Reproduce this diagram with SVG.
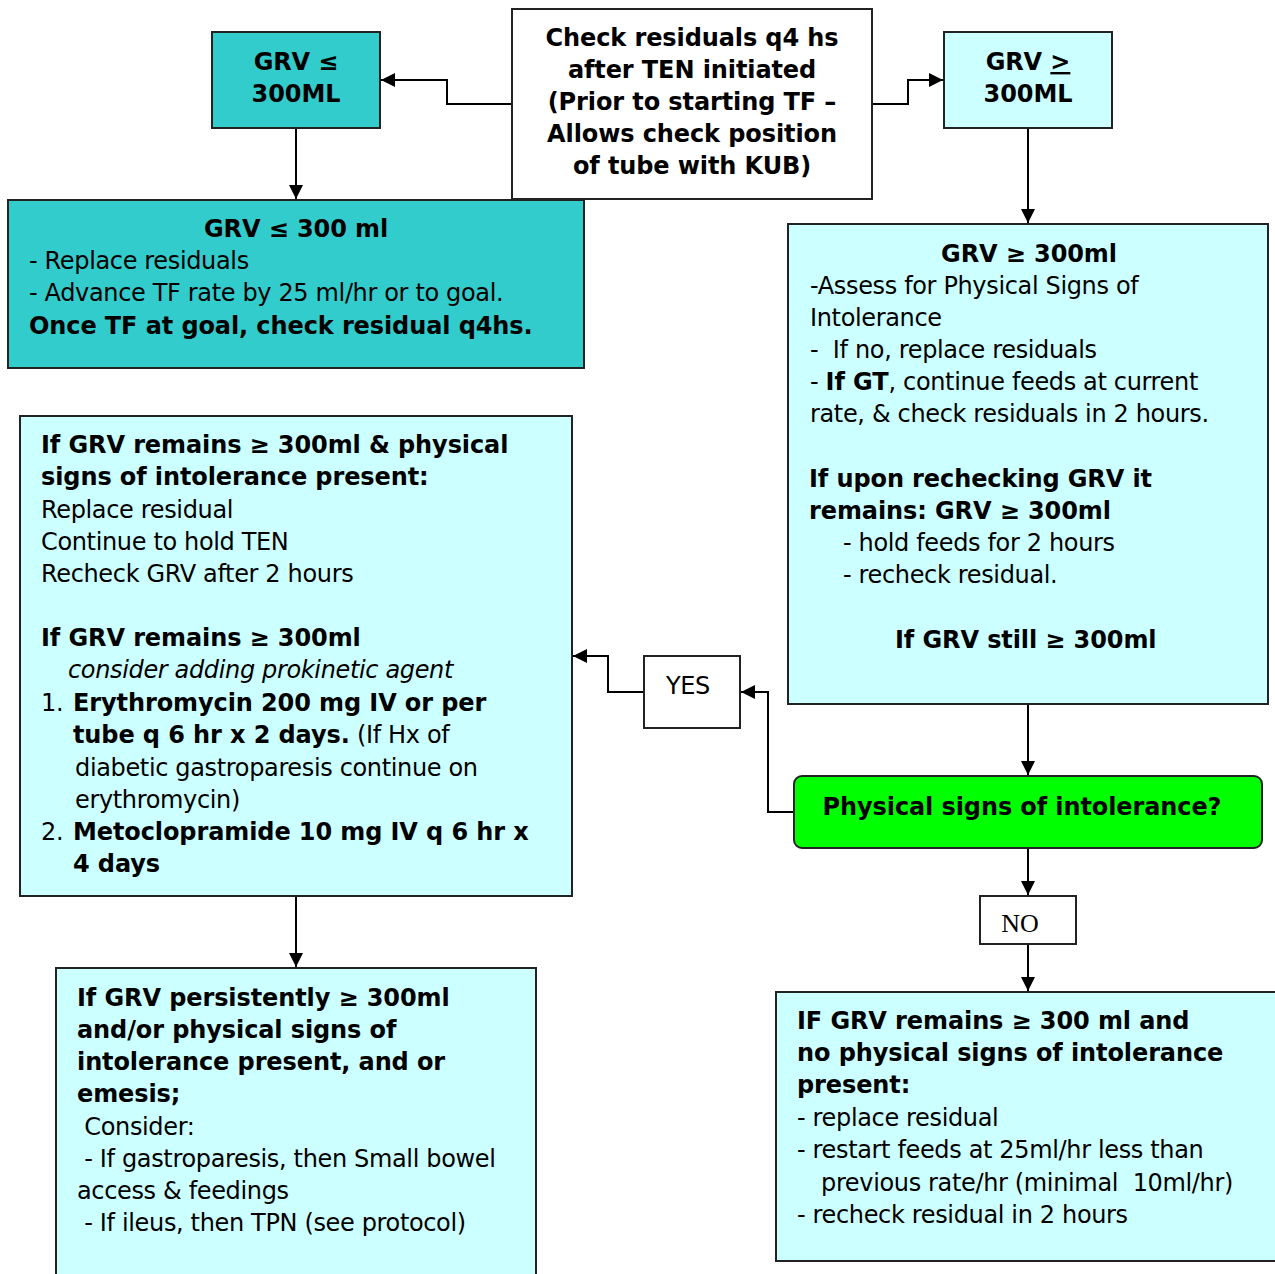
<svg xmlns="http://www.w3.org/2000/svg" width="1275" height="1274" viewBox="0 0 1275 1274">
<defs>
<marker id="arr" markerUnits="userSpaceOnUse" markerWidth="14" markerHeight="14" refX="14" refY="7" orient="auto">
<path d="M0,0 L14,7 L0,14 z" fill="#000"/>
</marker>
<style>
.box{stroke:#222;stroke-width:2}
.w{fill:#fff}
.t{fill:#33cccc}
.c{fill:#ccffff}
.g{fill:#00ff00}
text{font-family:"DejaVu Sans","Verdana",sans-serif;font-size:24px;fill:#000;white-space:pre;letter-spacing:-0.35px}
.b{font-weight:bold;letter-spacing:-0.1px}
.i{font-style:italic}
.m{text-anchor:middle}
.serif{font-family:"Liberation Serif","Times New Roman",serif;font-size:26px;letter-spacing:0}
.con{fill:none;stroke:#000;stroke-width:2}
</style>
</defs>
<rect width="1275" height="1274" fill="#fff"/>

<g id="connectors">
<path class="con" d="M512,104 H447 V80 H381" marker-end="url(#arr)"/>
<path class="con" d="M872,104 H908 V80 H943" marker-end="url(#arr)"/>
<path class="con" d="M296,128 V199" marker-end="url(#arr)"/>
<path class="con" d="M1028,128 V223" marker-end="url(#arr)"/>
<path class="con" d="M1028,704 V775" marker-end="url(#arr)"/>
<path class="con" d="M1028,848 V895" marker-end="url(#arr)"/>
<path class="con" d="M1028,944 V991" marker-end="url(#arr)"/>
<path class="con" d="M794,812 H768 V692 H741" marker-end="url(#arr)"/>
<path class="con" d="M644,692 H608 V656 H573" marker-end="url(#arr)"/>
<path class="con" d="M296,896 V967" marker-end="url(#arr)"/>
</g>

<g id="start">
<rect class="box w" x="512" y="9" width="360" height="190"/>
<text class="b m" x="692" y="46">Check residuals q4 hs</text>
<text class="b m" x="692" y="78">after TEN initiated</text>
<text class="b m" x="692" y="110">(Prior to starting TF –</text>
<text class="b m" x="692" y="142">Allows check position</text>
<text class="b m" x="692" y="174">of tube with KUB)</text>
</g>

<g id="grv-le">
<rect class="box t" x="212" y="32" width="168" height="96"/>
<text class="b m" x="296" y="70">GRV ≤</text>
<text class="b m" x="296" y="102">300ML</text>
</g>

<g id="grv-ge">
<rect class="box c" x="944" y="32" width="168" height="96"/>
<text class="b m" x="1028" y="70">GRV <tspan text-decoration="underline">&gt;</tspan></text>
<text class="b m" x="1028" y="102">300ML</text>
</g>

<g id="le-detail">
<rect class="box t" x="8" y="200" width="576" height="168"/>
<text class="b m" x="296" y="237">GRV ≤ 300 ml</text>
<text x="29" y="269">- Replace residuals</text>
<text x="29" y="301">- Advance TF rate by 25 ml/hr or to goal.</text>
<text class="b" x="29" y="334">Once TF at goal, check residual q4hs.</text>
</g>

<g id="ge-detail">
<rect class="box c" x="788" y="224" width="480" height="480"/>
<text class="b m" x="1029" y="262">GRV ≥ 300ml</text>
<text x="810" y="294">-Assess for Physical Signs of</text>
<text x="810" y="326">Intolerance</text>
<text x="810" y="358">-  If no, replace residuals</text>
<text x="810" y="390">- <tspan class="b">If GT</tspan>, continue feeds at current</text>
<text x="810" y="422">rate, &amp; check residuals in 2 hours.</text>
<text class="b" x="809" y="487">If upon rechecking GRV it</text>
<text class="b" x="809" y="519">remains: GRV ≥ 300ml</text>
<text x="843" y="551">- hold feeds for 2 hours</text>
<text x="843" y="583">- recheck residual.</text>
<text class="b" x="895" y="648">If GRV still ≥ 300ml</text>
</g>

<g id="question">
<rect class="box g" x="794" y="776" width="468" height="72" rx="8" ry="8"/>
<text class="b m" x="1022" y="815">Physical signs of intolerance?</text>
</g>

<g id="yes">
<rect class="box w" x="644" y="656" width="96" height="72"/>
<text class="m" x="688" y="694">YES</text>
</g>

<g id="no">
<rect class="box w" x="980" y="896" width="96" height="48"/>
<text class="serif m" x="1020" y="932">NO</text>
</g>

<g id="intolerance">
<rect class="box c" x="20" y="416" width="552" height="480"/>
<text class="b" x="41" y="453">If GRV remains ≥ 300ml &amp; physical</text>
<text class="b" x="41" y="485">signs of intolerance present:</text>
<text x="41" y="518">Replace residual</text>
<text x="41" y="550">Continue to hold TEN</text>
<text x="41" y="582">Recheck GRV after 2 hours</text>
<text class="b" x="41" y="646">If GRV remains ≥ 300ml</text>
<text class="i" x="68" y="678">consider adding prokinetic agent</text>
<text x="41" y="711">1.</text>
<text class="b" x="73" y="711">Erythromycin 200 mg IV or per</text>
<text x="73" y="743"><tspan class="b">tube q 6 hr x 2 days.</tspan> (If Hx of</text>
<text x="75" y="776">diabetic gastroparesis continue on</text>
<text x="75" y="808">erythromycin)</text>
<text x="41" y="840">2.</text>
<text class="b" x="73" y="840">Metoclopramide 10 mg IV q 6 hr x</text>
<text class="b" x="73" y="872">4 days</text>
</g>

<g id="persistent">
<rect class="box c" x="56" y="968" width="480" height="330"/>
<text class="b" x="77" y="1006">If GRV persistently ≥ 300ml</text>
<text class="b" x="77" y="1038">and/or physical signs of</text>
<text class="b" x="77" y="1070">intolerance present, and or</text>
<text class="b" x="77" y="1102">emesis;</text>
<text x="77" y="1135"> Consider:</text>
<text x="77" y="1167"> - If gastroparesis, then Small bowel</text>
<text x="77" y="1199">access &amp; feedings</text>
<text x="77" y="1231"> - If ileus, then TPN (see protocol)</text>
</g>

<g id="no-signs">
<rect class="box c" x="776" y="992" width="530" height="269"/>
<text class="b" x="797" y="1029">IF GRV remains ≥ 300 ml and</text>
<text class="b" x="797" y="1061">no physical signs of intolerance</text>
<text class="b" x="797" y="1093">present:</text>
<text x="797" y="1126">- replace residual</text>
<text x="797" y="1158">- restart feeds at 25ml/hr less than</text>
<text x="821" y="1191">previous rate/hr (minimal  10ml/hr)</text>
<text x="797" y="1223">- recheck residual in 2 hours</text>
</g>
</svg>
